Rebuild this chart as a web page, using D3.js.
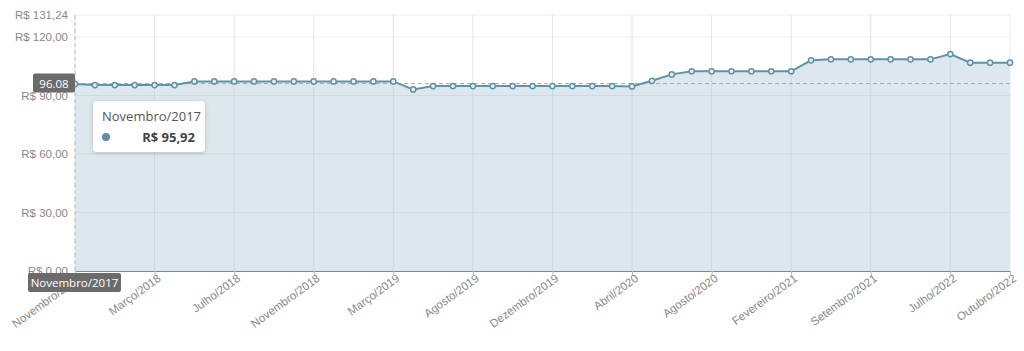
<!DOCTYPE html>
<html>
<head>
<meta charset="utf-8">
<script src="https://cdn.jsdelivr.net/npm/d3@7"></script>
<style>
  body { margin: 0; background: #fff; }
  svg { font-family: "Open Sans", "Noto Sans", sans-serif; }
</style>
</head>
<body>
<div id="chart"></div>
<script>
// meses (pontos de coleta)
const meses = [
  "Novembro/2017", "Dezembro/2017", "Janeiro/2018", "Fevereiro/2018",
  "Março/2018", "Abril/2018", "Maio/2018", "Junho/2018",
  "Julho/2018", "Agosto/2018", "Setembro/2018", "Outubro/2018",
  "Novembro/2018", "Dezembro/2018", "Janeiro/2019", "Fevereiro/2019",
  "Março/2019", "Abril/2019", "Maio/2019", "Junho/2019",
  "Agosto/2019", "Setembro/2019", "Outubro/2019", "Novembro/2019",
  "Dezembro/2019", "Janeiro/2020", "Fevereiro/2020", "Março/2020",
  "Abril/2020", "Maio/2020", "Junho/2020", "Julho/2020",
  "Agosto/2020", "Setembro/2020", "Outubro/2020", "Dezembro/2020",
  "Fevereiro/2021", "Abril/2021", "Maio/2021", "Julho/2021",
  "Setembro/2021", "Novembro/2021", "Janeiro/2022", "Abril/2022",
  "Julho/2022", "Agosto/2022", "Setembro/2022", "Outubro/2022"
];
const precos = [
  95.92, 95.3, 95.3, 95.3, 95.3, 95.3,
  97.2, 97.2, 97.2, 97.2, 97.2, 97.2, 97.2, 97.2, 97.2, 97.2, 97.2,
  93.1,
  94.8, 94.8, 94.8, 94.8, 94.8, 94.8, 94.8, 94.8, 94.8, 94.8, 94.6,
  97.5, 100.8,
  102.4, 102.4, 102.4, 102.4, 102.4, 102.4,
  108.0, 108.5, 108.5, 108.5, 108.5, 108.5, 108.5,
  111.2, 106.8, 106.8, 106.8
];
const rotulosX = [
  "Novembro/2017", "Março/2018", "Julho/2018", "Novembro/2018", "Março/2019",
  "Agosto/2019", "Dezembro/2019", "Abril/2020", "Agosto/2020", "Fevereiro/2021",
  "Setembro/2021", "Julho/2022", "Outubro/2022"
];
const ticksY = [0, 30, 60, 90, 120, 131.24];
const linhaMedia = 96.08;

const width = 1024, height = 351;
const margin = { top: 15, right: 14, bottom: 80, left: 75 };

const fmt = v => "R$ " + v.toFixed(2).replace(".", ",");

const svg = d3.select("#chart").append("svg")
  .attr("width", width).attr("height", height);

const x = d3.scalePoint().domain(meses).range([margin.left, width - margin.right]);
const y = d3.scaleLinear().domain([0, 131.24]).range([height - margin.bottom, margin.top]);

const data = meses.map((m, i) => ({ mes: m, preco: precos[i] }));

// grade
svg.append("g").selectAll("line.h")
  .data(ticksY)
  .join("line")
  .attr("x1", margin.left).attr("x2", width - margin.right)
  .attr("y1", d => y(d)).attr("y2", d => y(d))
  .attr("stroke", "#ececec");

svg.append("g").selectAll("line.v")
  .data(rotulosX)
  .join("line")
  .attr("x1", d => x(d)).attr("x2", d => x(d))
  .attr("y1", margin.top).attr("y2", y(0))
  .attr("stroke", "#ececec");

// área
svg.append("path")
  .datum(data)
  .attr("fill", "#cfdfe6")
  .attr("fill-opacity", 0.72)
  .attr("d", d3.area().x(d => x(d.mes)).y0(y(0)).y1(d => y(d.preco)));

// grade por cima da área (leve)
svg.append("g").selectAll("line")
  .data(rotulosX.slice(1, -1))
  .join("line")
  .attr("x1", d => x(d)).attr("x2", d => x(d))
  .attr("y1", margin.top).attr("y2", y(0))
  .attr("stroke", "#000").attr("stroke-opacity", 0.04);

svg.append("g").selectAll("line")
  .data(ticksY.slice(1, 4))
  .join("line")
  .attr("x1", margin.left).attr("x2", width - margin.right)
  .attr("y1", d => y(d)).attr("y2", d => y(d))
  .attr("stroke", "#000").attr("stroke-opacity", 0.04);

// linha tracejada (crosshair horizontal)
svg.append("line")
  .attr("x1", margin.left).attr("x2", width - margin.right)
  .attr("y1", y(linhaMedia)).attr("y2", y(linhaMedia))
  .attr("stroke", "#aaa").attr("stroke-dasharray", "4,3");

// crosshair vertical
svg.append("line")
  .attr("x1", x(meses[0])).attr("x2", x(meses[0]))
  .attr("y1", margin.top).attr("y2", y(0))
  .attr("stroke", "#bbb").attr("stroke-dasharray", "4,3");

// eixo Y
const yAxis = svg.append("g")
  .attr("transform", `translate(${margin.left},0)`)
  .call(d3.axisLeft(y).tickValues(ticksY).tickFormat(fmt).tickSize(0).tickPadding(7));
yAxis.select(".domain").remove();
yAxis.selectAll("text").attr("fill", "#888").attr("font-size", 11.5);

// eixo X
const xAxis = svg.append("g")
  .attr("transform", `translate(0,${y(0)})`)
  .call(d3.axisBottom(x).tickValues(rotulosX).tickSize(4).tickPadding(2));
xAxis.select(".domain").attr("stroke", "#888");
xAxis.selectAll(".tick line").attr("stroke", "#bbb");
xAxis.selectAll("text")
  .attr("fill", "#888").attr("font-size", 11.5)
  .attr("text-anchor", "end")
  .attr("dx", "0em").attr("dy", "0.45em")
  .attr("transform", "rotate(-36)");

// linha
svg.append("path")
  .datum(data)
  .attr("fill", "none")
  .attr("stroke", "#6293a4")
  .attr("stroke-width", 2)
  .attr("d", d3.line().x(d => x(d.mes)).y(d => y(d.preco)));

svg.append("g").selectAll("circle")
  .data(data)
  .join("circle")
  .attr("cx", d => x(d.mes)).attr("cy", d => y(d.preco))
  .attr("r", 2.6)
  .attr("fill", "#e6eef1")
  .attr("stroke", "#6293a4")
  .attr("stroke-width", 1.5);

// etiqueta Y do crosshair
const tagY = svg.append("g").attr("transform", `translate(${margin.left - 42},${y(linhaMedia) - 10})`);
tagY.append("rect").attr("width", 42).attr("height", 19).attr("rx", 2).attr("fill", "#6b6b6b");
tagY.append("text").attr("x", 21).attr("y", 14).attr("text-anchor", "middle")
  .attr("fill", "#fff").attr("font-size", 11.5).text(linhaMedia.toFixed(2));

// etiqueta X do crosshair
const tagX = svg.append("g").attr("transform", `translate(${x(meses[0]) - 47},${y(0) + 2})`);
tagX.append("rect").attr("width", 93).attr("height", 19).attr("rx", 2).attr("fill", "#6b6b6b");
tagX.append("text").attr("x", 46.5).attr("y", 14).attr("text-anchor", "middle")
  .attr("fill", "#fff").attr("font-size", 11.5).text(meses[0]);

// tooltip
const defs = svg.append("defs");
const f = defs.append("filter").attr("id", "sombra").attr("x", "-20%").attr("y", "-20%").attr("width", "140%").attr("height", "160%");
f.append("feDropShadow").attr("dx", 0).attr("dy", 1).attr("stdDeviation", 2).attr("flood-color", "#000").attr("flood-opacity", 0.18);

const tip = svg.append("g").attr("transform", "translate(93,101)");
tip.append("rect").attr("width", 112).attr("height", 51).attr("rx", 4)
  .attr("fill", "#fff").attr("filter", "url(#sombra)");
tip.append("text").attr("x", 9).attr("y", 20).attr("fill", "#555").attr("font-size", 13).text(meses[0]);
tip.append("circle").attr("cx", 13).attr("cy", 36).attr("r", 4).attr("fill", "#5e8fa8");
tip.append("text").attr("x", 102).attr("y", 41).attr("text-anchor", "end")
  .attr("fill", "#444").attr("font-size", 13).attr("font-weight", "bold").text(fmt(precos[0]));
</script>
</body>
</html>
